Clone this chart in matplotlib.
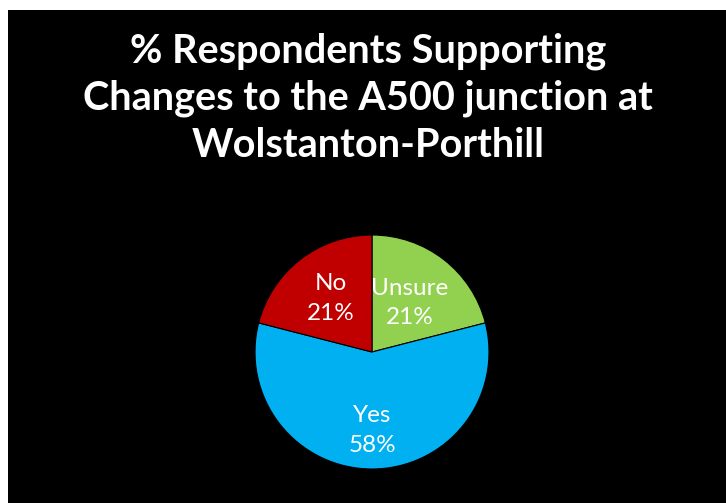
import numpy as np
import matplotlib
matplotlib.use("Agg")
import matplotlib.pyplot as plt
from matplotlib.patches import Rectangle

# Survey responses
categories = ["Unsure", "Yes", "No"]
shares = [21, 58, 21]
colors = ["#92D050", "#00B0F0", "#C00000"]
title = "% Respondents Supporting\nChanges to the A500 junction at\nWolstanton-Porthill"

W, H = 726, 503
fig = plt.figure(figsize=(W / 100, H / 100), dpi=100, facecolor="white")

# Black panel leaving a thin white strip at the top and left
fig.add_artist(Rectangle((8 / W, 0), 1 - 8 / W, 1 - 10 / H,
                         transform=fig.transFigure, facecolor="black",
                         edgecolor="none", zorder=0))

fig.text(368 / W, 1 - 98 / H, title, ha="center", va="center",
         color="white", fontsize=28.5, fontweight="bold", family="Lato",
         linespacing=1.33)

cx, cy, r = 372, 352, 117
ax = fig.add_axes([(cx - r) / W, (H - cy - r) / H, 2 * r / W, 2 * r / H])
ax.set_facecolor("none")
wedges, _ = ax.pie(shares, colors=colors, startangle=90, counterclock=False,
                   radius=1, wedgeprops=dict(edgecolor="black", linewidth=0.8))
ax.set_xlim(-1, 1)
ax.set_ylim(-1, 1)
ax.set_aspect("equal")
ax.axis("off")

# Label each wedge with its name and share, at a per-wedge radial distance
label_dist = [0.53, 0.67, 0.58]
for w, name, val, d in zip(wedges, categories, shares, label_dist):
    ang = np.deg2rad((w.theta1 + w.theta2) / 2)
    ax.text(d * np.cos(ang), d * np.sin(ang), f"{name}\n{val}%",
            ha="center", va="center", color="white", fontsize=17.5,
            family="Lato", linespacing=1.5)

fig.savefig("out.png", dpi=100, facecolor=fig.get_facecolor())
